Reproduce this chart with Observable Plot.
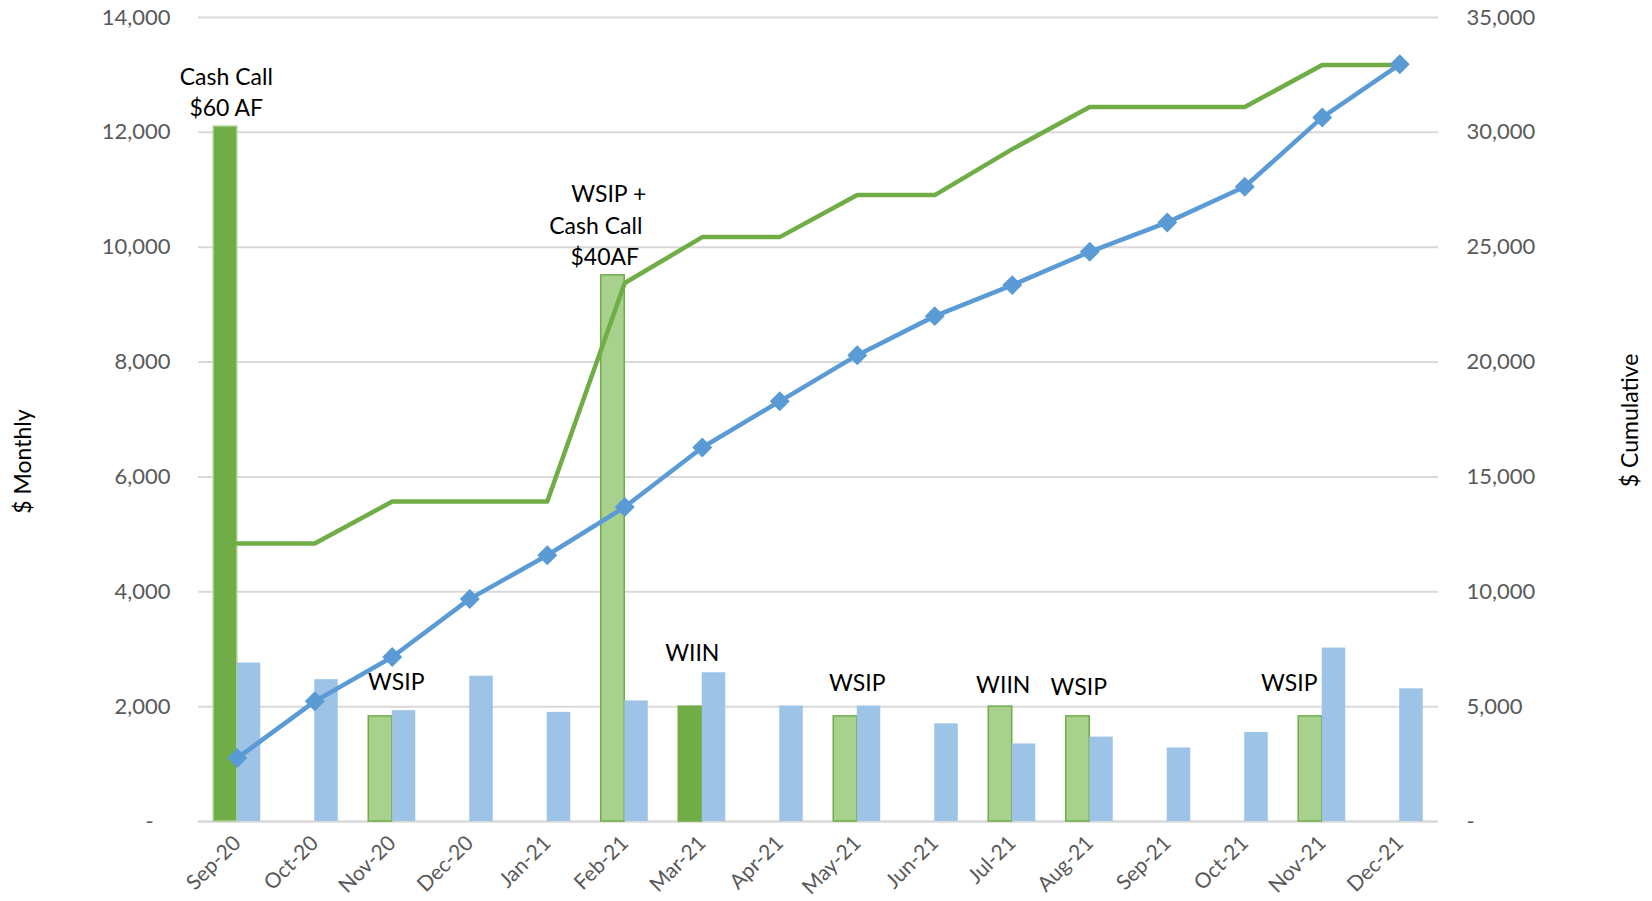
<!DOCTYPE html>
<html><head><meta charset="utf-8">
<script src="https://cdn.jsdelivr.net/npm/d3@7"></script>
<script src="https://cdn.jsdelivr.net/npm/@observablehq/plot@0.6"></script>
<style>
html,body{margin:0;padding:0;background:#fff;}
#chart svg{display:block;}
</style></head><body><div id="chart"></div>
<script>
// ---- data ----
const months = ["Sep-20","Oct-20","Nov-20","Dec-20","Jan-21","Feb-21","Mar-21","Apr-21","May-21","Jun-21","Jul-21","Aug-21","Sep-21","Oct-21","Nov-21","Dec-21"];
const greenMonthly = [12100, null, 1830, null, null, 9510, 2000, null, 1830, null, 2000, 1830, null, null, 1830, null];
const blueMonthly = [2760, 2470, 1930, 2530, 1900, 2100, 2590, 2010, 2010, 1700, 1350, 1470, 1280, 1550, 3020, 2310];
const greenCumulative = [12100, 12100, 13930, 13930, 13930, 23440, 25440, 25440, 27270, 27270, 29270, 31100, 31100, 31100, 32930, 32930];
const blueCumulative = [2760, 5230, 7160, 9690, 11590, 13690, 16280, 18290, 20300, 22000, 23350, 24800, 26080, 27630, 30650, 32960];
const darkGreenMonths = ["Sep-20", "Mar-21"];
const leftTicks = [0, 2000, 4000, 6000, 8000, 10000, 12000, 14000];
const rightTicks = [0, 5000, 10000, 15000, 20000, 25000, 30000, 35000];
const noteMonths = ["Sep-20","Sep-20","Feb-21","Feb-21","Feb-21","Nov-20","Mar-21","May-21","Jul-21","Aug-21","Nov-21"];
const noteTexts = ["Cash Call","$60 AF","WSIP +","Cash Call","$40AF","WSIP","WIIN","WSIP","WIIN","WSIP","WSIP"];
const noteLevels = [12950, 12420, 10920, 10350, 9820, 2420, 2925, 2400, 2370, 2330, 2400];

// ---- styling / layout ----
const noteShift = [-11, -11, -16, -29, -20, 4, -10, 0, -9, -11, -33];
const k = 14000 / 35000; // right axis -> left axis units
const fmt = v => v === 0 ? "-" : d3.format(",")(v);
const rows = months.map((m, i) => ({month: m, green: greenMonthly[i], blue: blueMonthly[i], gc: greenCumulative[i], bc: blueCumulative[i]}));
const notes = noteMonths.map((m, i) => ({month: m, text: noteTexts[i], level: noteLevels[i], shift: noteShift[i]}));

const chart = Plot.plot({
  width: 1652, height: 901,
  marginLeft: 198, marginRight: 214, marginTop: 17, marginBottom: 80,
  style: {fontFamily: "Lato, sans-serif", background: "#fff"},
  x: {domain: months, paddingInner: 0.3935, paddingOuter: 0.197, align: 0.5, round: false, label: null},
  y: {domain: [0, 14000], label: null},
  color: {type: "identity"},
  marks: [
    Plot.ruleY(leftTicks.filter(t => t > 0), {stroke: "#d9d9d9", strokeWidth: 2}),
    Plot.ruleY([0], {stroke: "#d9d9d9", strokeWidth: 2.5}),
    Plot.barY(rows.filter(d => d.green != null), {
      x: "month", y: "green", insetRight: 23.5,
      fill: d => darkGreenMonths.includes(d.month) ? "#70AD47" : "#A9D18E",
      stroke: d => d.month === "Sep-20" ? "#A9D18E" : "#70AD47", strokeWidth: 1.5
    }),
    Plot.barY(rows, {x: "month", y: "blue", insetLeft: 23.5, fill: "#9DC3E6"}),
    Plot.line(rows, {x: "month", y: d => d.gc * k, stroke: "#70AD47", strokeWidth: 4.5}),
    Plot.line(rows, {x: "month", y: d => d.bc * k, stroke: "#5B9BD5", strokeWidth: 4.5}),
    Plot.dot(rows, {x: "month", y: d => d.bc * k, symbol: "diamond2", r: 9, fill: "#5B9BD5", stroke: "none"}),
    ...notes.map(n => Plot.text([n], {x: "month", y: "level", text: "text", dx: n.shift, fontSize: 23, fill: "#000"})),
    Plot.axisY(leftTicks, {anchor: "left", tickSize: 0, tickPadding: 28, fontSize: 22, fill: "#595959", label: null,
      tickFormat: v => v === 0 ? "-\u00a0\u00a0\u00a0" : fmt(v)}),
    Plot.axisY(rightTicks.map(v => v * k), {anchor: "right", tickSize: 0, tickPadding: 28, fontSize: 22, fill: "#595959", label: null,
      tickFormat: v => fmt(Math.round(v / k))}),
    Plot.axisX({tickRotate: -45, tickSize: 0, tickPadding: 18, fontSize: 21, fill: "#595959", label: null}),
    Plot.text(["$ Monthly"], {frameAnchor: "left", textAnchor: "middle", dx: -175, dy: 42, rotate: -90, fontSize: 23, fill: "#000"}),
    Plot.text(["$ Cumulative"], {frameAnchor: "right", textAnchor: "middle", dx: 192, dy: 1, rotate: -90, fontSize: 23, fill: "#000"})
  ]
});
document.getElementById("chart").appendChild(chart);
</script></body></html>
